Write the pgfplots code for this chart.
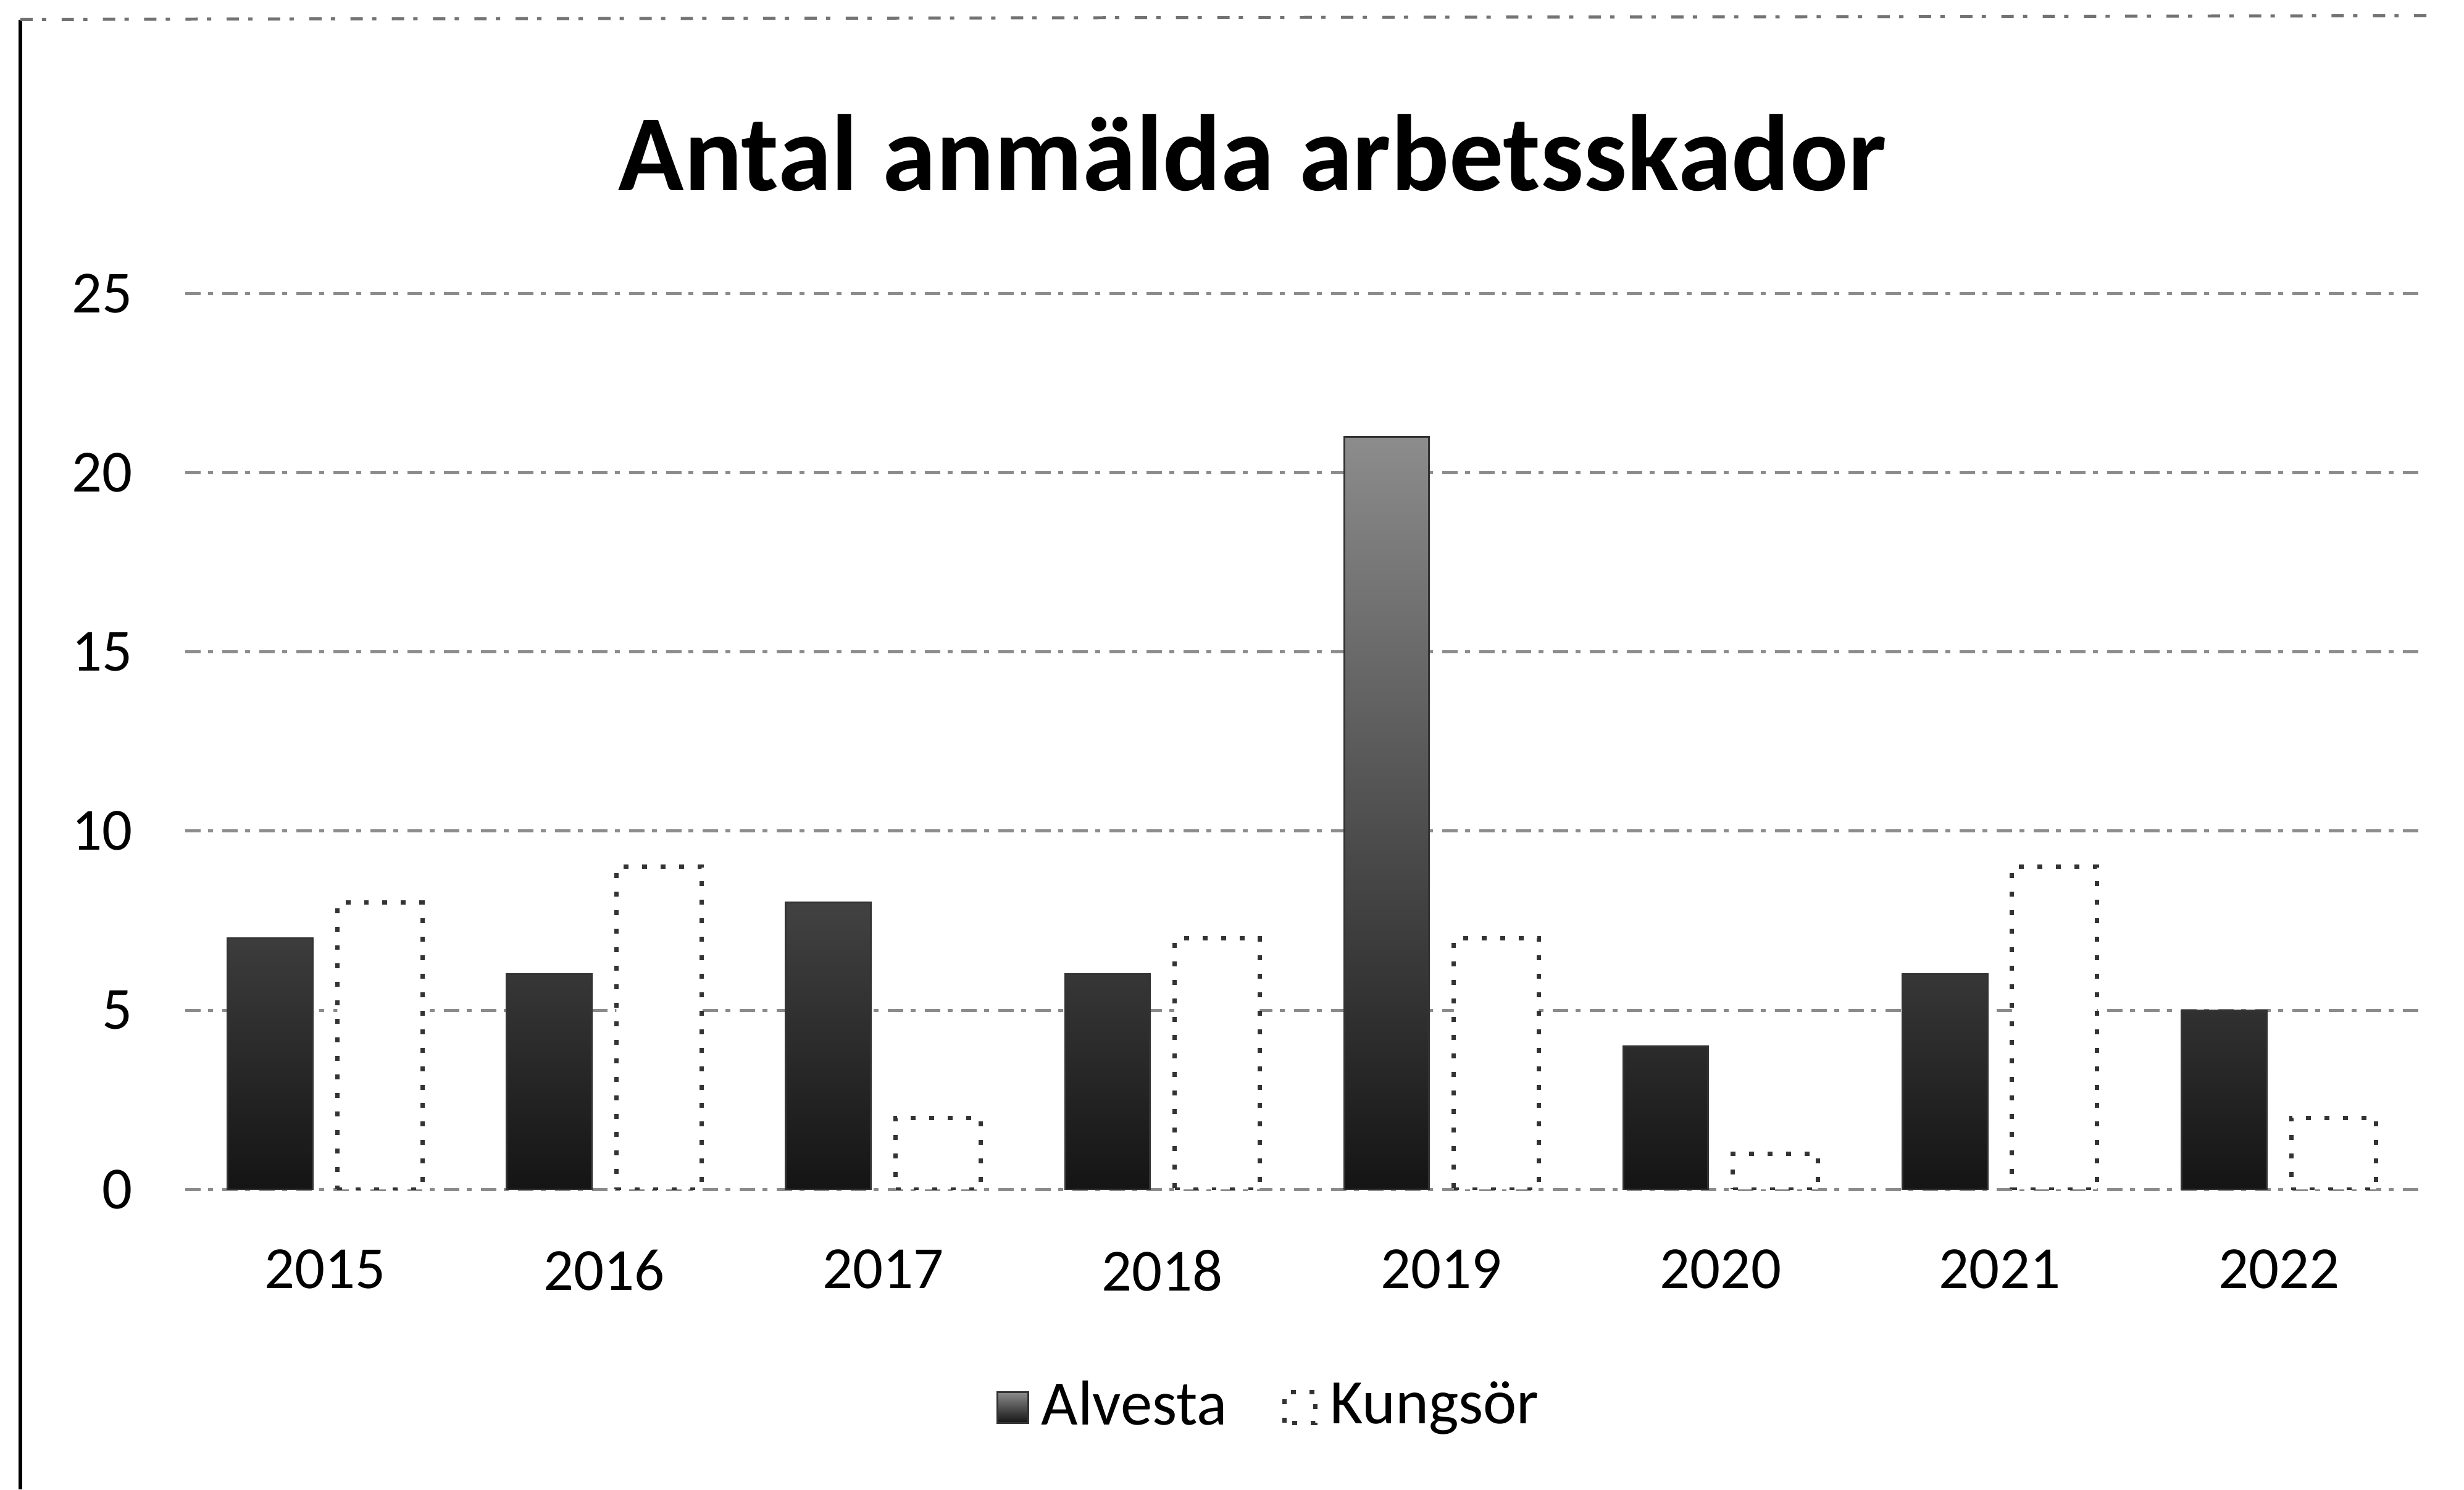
\documentclass[border=0pt]{standalone}
\usepackage{fontspec}
\setmainfont{Carlito}
\usepackage{pgfplots}
\pgfplotsset{compat=1.18}
\begin{document}
\begin{tikzpicture}
\useasboundingbox (0,0) rectangle (400pt,241.75pt);
% chart frame (scanned edge)
\draw[black, line width=0.6pt] (3.3pt,0) -- (3.3pt,238.5pt);
\draw[black!55, line width=0.5pt, dash pattern=on 2pt off 1.5pt on 0.7pt off 2.5pt] (3.3pt,238.6pt) -- (395pt,239.2pt);
\node[font=\fontsize{17.6}{20}\selectfont\bfseries, anchor=center] at (203.3pt,216.9pt) {Antal anmälda arbetsskador};
\begin{axis}[
  at={(30.1pt,48.7pt)}, anchor=south west,
  scale only axis, width=362.5pt, height=145.4pt,
  ymin=0, ymax=25, ytick={0,5,10,15,20,25},
  xmin=-0.5, xmax=7.5, xtick=data,
  xticklabels={2015,2016,2017,2018,2019,2020,2021,2022},
  ybar=4pt, bar width=13.8pt,
  axis line style={draw=none},
  major tick length=0pt,
  ymajorgrids,
  grid style={black!45, line width=0.5pt, dash pattern=on 2.5pt off 1.2pt on 0.8pt off 1.5pt},
  /pgf/number format/assume math mode=true,
  tick label style={font=\fontsize{9.7}{11}\selectfont},
  yticklabel style={inner sep=0pt, anchor=east, xshift=-8.4pt},
  xticklabel style={inner sep=0pt, anchor=north, yshift=-9.6pt},
  legend style={at={(0.4874,-0.2435)}, anchor=center, draw=none, fill=none,
    legend columns=2, font=\fontsize{10.3}{12}\selectfont,
    /tikz/every even column/.append style={column sep=7pt}},
  legend image code/.code={\draw[#1] (0pt,-2.5pt) rectangle (5pt,2.5pt);},
]
\addplot[draw=black!80, line width=0.3pt, top color=black!45, middle color=black!78, bottom color=black!92]
  coordinates {(0,7) (1,6) (2,8) (3,6) (4,21) (5,4) (6,6) (7,5)};
\addplot[draw=black!80, fill=white, line width=0.7pt, dash pattern=on 0.8pt off 2.2pt]
  coordinates {(0,8) (1,9) (2,2) (3,7) (4,7) (5,1) (6,9) (7,2)};
\legend{Alvesta, Kungsör}
\end{axis}
\end{tikzpicture}
\end{document}
